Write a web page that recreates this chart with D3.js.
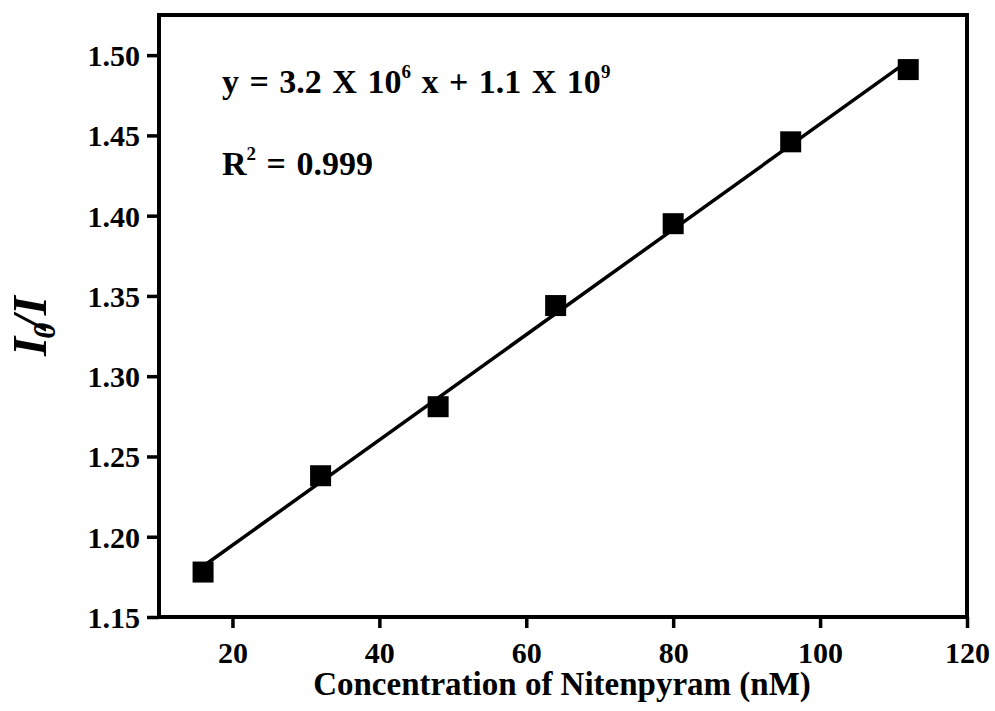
<!DOCTYPE html>
<html>
<head>
<meta charset="utf-8">
<script src="https://cdn.jsdelivr.net/npm/d3@7"></script>
<style>
  html, body { margin: 0; padding: 0; background: #fff; }
  svg text { font-family: "Liberation Serif", "Times New Roman", serif; font-weight: bold; fill: #000; }
</style>
</head>
<body>
<svg id="chart" width="995" height="711"></svg>
<script>
// Nitenpyram concentration (nM) and fluorescence quenching ratio I0/I
const concentration = [16, 32, 48, 64, 80, 96, 112];
const ratio = [1.178, 1.238, 1.281, 1.344, 1.395, 1.446, 1.491];
const xTicks = [20, 40, 60, 80, 100, 120];
const yTicks = [1.15, 1.20, 1.25, 1.30, 1.35, 1.40, 1.45, 1.50];

const svg = d3.select("#chart");
const plotLeft = 159, plotRight = 967, plotTop = 15, plotBottom = 617;

const x = d3.scaleLinear().domain([10, 120]).range([plotLeft, plotRight]);
const y = d3.scaleLinear().domain([1.15, 1.525]).range([plotBottom, plotTop]);

// Least-squares line through the calibration points
const n = concentration.length;
const mx = d3.mean(concentration), my = d3.mean(ratio);
const slope = d3.sum(concentration, (c, i) => (c - mx) * (ratio[i] - my)) /
              d3.sum(concentration, c => (c - mx) ** 2);
const intercept = my - slope * mx;
const fitX = [concentration[0], concentration[n - 1]];

svg.append("path")
  .datum(fitX)
  .attr("fill", "none")
  .attr("stroke", "#000")
  .attr("stroke-width", 3.5)
  .attr("d", d3.line().x(d => x(d)).y(d => y(intercept + slope * d)));

// Square markers
const size = 21;
svg.append("g").selectAll("rect")
  .data(concentration)
  .join("rect")
  .attr("x", d => x(d) - size / 2)
  .attr("y", (d, i) => y(ratio[i]) - size / 2)
  .attr("width", size)
  .attr("height", size)
  .attr("fill", "#000");

// Axes
const xAxis = svg.append("g")
  .attr("transform", `translate(0,${plotBottom})`)
  .call(d3.axisBottom(x).tickValues(xTicks).tickSize(11).tickPadding(14).tickFormat(d3.format("d")));
const yAxis = svg.append("g")
  .attr("transform", `translate(${plotLeft},0)`)
  .call(d3.axisLeft(y).tickValues(yTicks).tickSize(12).tickPadding(7).tickFormat(d3.format(".2f")));

[xAxis, yAxis].forEach(g => {
  g.select(".domain").remove();
  g.selectAll(".tick line").attr("stroke", "#000").attr("stroke-width", 3.5);
  g.selectAll(".tick text").style("font-size", "30px").attr("fill", "#000");
});
xAxis.selectAll(".tick text").attr("dy", "0.71em");
yAxis.selectAll(".tick text").attr("dy", "0.35em");

// Frame
svg.append("rect")
  .attr("x", plotLeft).attr("y", plotTop)
  .attr("width", plotRight - plotLeft).attr("height", plotBottom - plotTop)
  .attr("fill", "none").attr("stroke", "#000").attr("stroke-width", 4);

// Axis titles
svg.append("text")
  .attr("x", (plotLeft + plotRight) / 2 - 1).attr("y", 695)
  .attr("text-anchor", "middle")
  .style("font-size", "33px")
  .text("Concentration of Nitenpyram (nM)");

const yTitle = svg.append("text")
  .attr("transform", "translate(46,326) rotate(-90)")
  .attr("text-anchor", "middle")
  .style("font-size", "49px")
  .style("font-style", "italic");
yTitle.append("tspan").text("I");
yTitle.append("tspan").attr("dy", 9).attr("dx", -2).style("font-size", "32px").text("0");
yTitle.append("tspan").attr("dy", -9).attr("dx", -6).text("/I");

// Regression annotation
const eq = svg.append("text").attr("x", 222).attr("y", 93).style("font-size", "34px").style("word-spacing", "2px");
eq.append("tspan").text("y = 3.2 X 10");
eq.append("tspan").attr("dy", -15).style("font-size", "19px").text("6");
eq.append("tspan").attr("dy", 15).text(" x + 1.1 X 10");
eq.append("tspan").attr("dy", -15).style("font-size", "19px").text("9");

const r2 = svg.append("text").attr("x", 222).attr("y", 175).style("font-size", "34px").style("word-spacing", "2px");
r2.append("tspan").text("R");
r2.append("tspan").attr("dy", -15).style("font-size", "19px").text("2");
r2.append("tspan").attr("dy", 15).text(" = 0.999");
</script>
</body>
</html>
